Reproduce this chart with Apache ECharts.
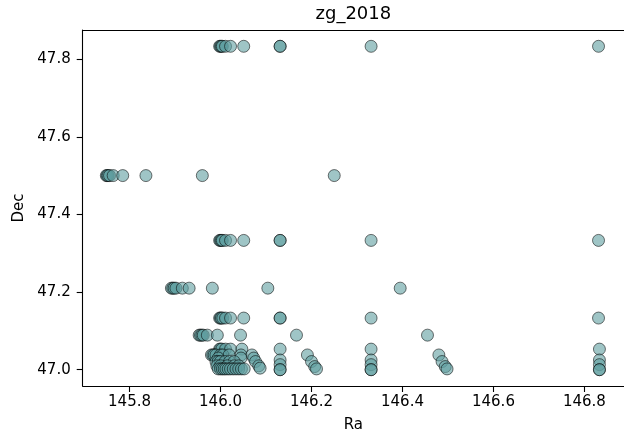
<!DOCTYPE html>
<html>
<head>
<meta charset="utf-8">
<script src="https://cdn.jsdelivr.net/npm/echarts@6/dist/echarts.min.js"></script>
<style>
html,body{margin:0;padding:0;background:#fff;}
#chart{width:624px;height:438px;}
</style>
</head>
<body>
<div id="chart"></div>
<script>
// ---- data ----
const chartTitle = 'zg_2018';
const xName = 'Ra';
const yName = 'Dec';
const xTicks = [145.8, 146.0, 146.2, 146.4, 146.6, 146.8];
const yTicks = [47.0, 47.2, 47.4, 47.6, 47.8];

// rows with a single Dec value
const rowDec = [47.833, 47.5, 47.333, 47.21, 47.133, 47.089];
const rowRa0 = [145.998, 146.0, 146.002, 146.004, 146.011, 146.022, 146.051, 146.131, 146.131, 146.331, 146.831];
const rowRa1 = [145.749, 145.751, 145.753, 145.756, 145.764, 145.785, 145.836, 145.96, 146.25];
const rowRa2 = [145.998, 146.0, 146.002, 146.004, 146.011, 146.022, 146.051, 146.131, 146.131, 146.331, 146.831];
const rowRa3 = [145.892, 145.895, 145.898, 145.902, 145.916, 145.931, 145.982, 146.104, 146.395];
const rowRa4 = [145.998, 146.0, 146.002, 146.005, 146.011, 146.022, 146.051, 146.131, 146.131, 146.331, 146.831];
const rowRa5 = [145.953, 145.956, 145.959, 145.962, 145.971, 145.993, 146.044, 146.167, 146.455];

// dense lower cluster (paired Ra / Dec)
const lowRa = [
  145.998, 146.0, 146.003, 146.011, 146.022, 146.047, 146.131, 146.331, 146.833,
  145.98, 145.983, 145.986, 145.99, 146.0, 146.005, 146.019, 146.045, 146.069, 146.191, 146.48,
  146.045, 146.073, 145.995,
  145.99, 145.995, 146.0, 146.01, 146.02, 146.03, 146.077, 146.2, 146.487,
  146.131, 146.331, 146.833,
  146.131, 146.331, 146.833,
  145.992, 146.0, 146.015, 146.03, 146.04, 146.084, 146.207, 146.494,
  145.995, 146.0, 146.004, 146.008, 146.012, 146.017, 146.022, 146.028, 146.034, 146.04, 146.046, 146.052, 146.087, 146.211, 146.498,
  146.131, 146.131, 146.331, 146.331, 146.833, 146.833
];
const lowDec = [
  47.053, 47.053, 47.053, 47.053, 47.053, 47.053, 47.053, 47.053, 47.053,
  47.038, 47.038, 47.038, 47.038, 47.038, 47.038, 47.038, 47.038, 47.038, 47.038, 47.038,
  47.03, 47.03, 47.03,
  47.021, 47.021, 47.021, 47.021, 47.021, 47.021, 47.021, 47.021, 47.021,
  47.025, 47.025, 47.025,
  47.013, 47.013, 47.013,
  47.01, 47.01, 47.01, 47.01, 47.01, 47.01, 47.008, 47.008,
  47.002, 47.002, 47.002, 47.002, 47.002, 47.002, 47.002, 47.002, 47.002, 47.002, 47.002, 47.002, 47.004, 47.002, 47.002,
  47.0, 47.0, 47.0, 47.0, 47.0, 47.0
];

// ---- build points ----
const rowRas = [rowRa0, rowRa1, rowRa2, rowRa3, rowRa4, rowRa5];
const points = [];
rowRas.forEach((arr, i) => arr.forEach(r => points.push([r, rowDec[i]])));
lowRa.forEach((r, i) => points.push([r, lowDec[i]]));

const fontFam = '"DejaVu Sans", sans-serif';
const chart = echarts.init(document.getElementById('chart'), null, {renderer: 'canvas'});
chart.setOption({
  animation: false,
  backgroundColor: '#ffffff',
  grid: {left: 82.7, top: 30, width: 545.3, height: 356, containLabel: false},
  xAxis: [{
    type: 'value', min: 145.697, max: 146.887, position: 'bottom',
    name: xName, nameLocation: 'middle', nameGap: 32,
    nameTextStyle: {fontFamily: fontFam, fontSize: 15, color: '#000'},
    axisLine: {show: true, onZero: false, lineStyle: {color: '#000', width: 1.1}},
    axisTick: {show: true, length: 6, lineStyle: {color: '#000', width: 1.1}, customValues: xTicks},
    axisLabel: {show: true, margin: 9, fontFamily: fontFam, fontSize: 15, color: '#000',
      customValues: xTicks, formatter: v => Number(v).toFixed(1)},
    splitLine: {show: false}
  }, {
    type: 'value', min: 145.697, max: 146.887, position: 'top',
    name: chartTitle, nameLocation: 'middle', nameGap: 7,
    nameTextStyle: {fontFamily: fontFam, fontSize: 18, color: '#000'},
    axisLine: {show: true, onZero: false, lineStyle: {color: '#000', width: 1.1}},
    axisTick: {show: false}, axisLabel: {show: false}, splitLine: {show: false}
  }],
  yAxis: [{
    type: 'value', min: 46.958, max: 47.875,
    name: yName, nameLocation: 'middle', nameGap: 56, nameRotate: 90,
    nameTextStyle: {fontFamily: fontFam, fontSize: 15, color: '#000'},
    axisLine: {show: true, onZero: false, lineStyle: {color: '#000', width: 1.1}},
    axisTick: {show: true, length: 6, lineStyle: {color: '#000', width: 1.1}, customValues: yTicks},
    axisLabel: {show: true, margin: 12, fontFamily: fontFam, fontSize: 15, color: '#000',
      customValues: yTicks, formatter: v => Number(v).toFixed(1)},
    splitLine: {show: false}
  }],
  series: [{
    type: 'scatter',
    xAxisIndex: 0, yAxisIndex: 0,
    data: points,
    symbol: 'circle',
    symbolSize: 12,
    itemStyle: {color: '#5f9ea0', borderColor: '#000', borderWidth: 0.9, opacity: 0.6},
    emphasis: {disabled: true}
  }]
});
</script>
</body>
</html>
